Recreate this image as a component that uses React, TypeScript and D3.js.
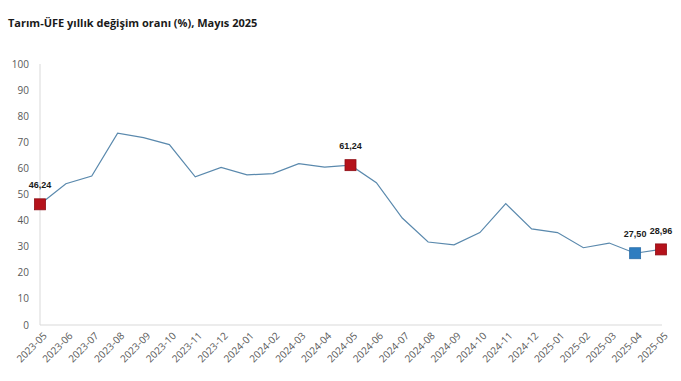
import React from "react";
import * as d3 from "d3";

const categories = [
  "2023-05","2023-06","2023-07","2023-08","2023-09","2023-10","2023-11","2023-12",
  "2024-01","2024-02","2024-03","2024-04","2024-05","2024-06","2024-07","2024-08",
  "2024-09","2024-10","2024-11","2024-12","2025-01","2025-02","2025-03","2025-04","2025-05",
];
const values = [
  46.24, 54.1, 57.1, 73.5, 71.8, 69.1, 56.8, 60.4,
  57.5, 58.0, 61.8, 60.5, 61.24, 54.5, 41.0, 31.8,
  30.7, 35.4, 46.5, 36.8, 35.4, 29.6, 31.4, 27.5, 28.96,
];
const yTicks = [0, 10, 20, 30, 40, 50, 60, 70, 80, 90, 100];
const redMarkers = ["2023-05", "2024-05", "2025-05"];
const blueMarkers = ["2025-04"];
const labelled = ["2023-05", "2024-05", "2025-04", "2025-05"];
const title = "Tarım-ÜFE yıllık değişim oranı (%), Mayıs 2025";

const fmt = (v: number) => v.toFixed(2).replace(".", ",");

export default function App() {
  const W = 681, H = 381;
  const x = d3.scalePoint<string>().domain(categories).range([40, 661]);
  const y = d3.scaleLinear().domain([0, 100]).range([325, 64]);
  const line = d3.line<number>().x((_, i) => x(categories[i])!).y((d) => y(d));
  const font = "'Open Sans', 'Liberation Sans', sans-serif";
  return (
    <svg width={W} height={H} style={{ position: "absolute", left: 0, top: 0, background: "#fff" }} fontFamily={font}>
      <text x={8} y={27} fontSize={11} fontWeight="bold" fill="#1a1a1a">{title}</text>
      <line x1={40} x2={40} y1={64} y2={325} stroke="#d9d9d9" />
      <line x1={40} x2={662} y1={325} y2={325} stroke="#d9d9d9" />
      {yTicks.map((t) => (
        <text key={t} x={29} y={y(t)} dy="0.35em" textAnchor="end" fontSize={10} fill="#595959">{t}</text>
      ))}
      {categories.map((c) => (
        <text key={c} transform={`translate(${x(c)! + 5},${334}) rotate(-45)`} textAnchor="end" dy="0.35em" fontSize={10} fill="#595959">{c}</text>
      ))}
      <path d={line(values) || ""} fill="none" stroke="#5a89ad" strokeWidth={1.2} />
      {categories.map((c, i) => {
        const isRed = redMarkers.includes(c);
        const isBlue = blueMarkers.includes(c);
        if (!isRed && !isBlue) return null;
        const s = 11;
        return (
          <rect key={c} x={x(c)! - s / 2} y={y(values[i]) - s / 2} width={s} height={s}
            fill={isRed ? "#b5121b" : "#2e7dc0"} stroke={isRed ? "#8e0d14" : "#2a6da8"} strokeWidth={0.8} />
        );
      })}
      {categories.map((c, i) =>
        labelled.includes(c) ? (
          <text key={c} x={x(c)!} y={y(values[i]) - 19} dy="0.35em" textAnchor="middle" fontSize={9} fontWeight="bold"
            fontFamily="'Liberation Sans', Arial, sans-serif" fill="#1a1a1a">{fmt(values[i])}</text>
        ) : null
      )}
    </svg>
  );
}
